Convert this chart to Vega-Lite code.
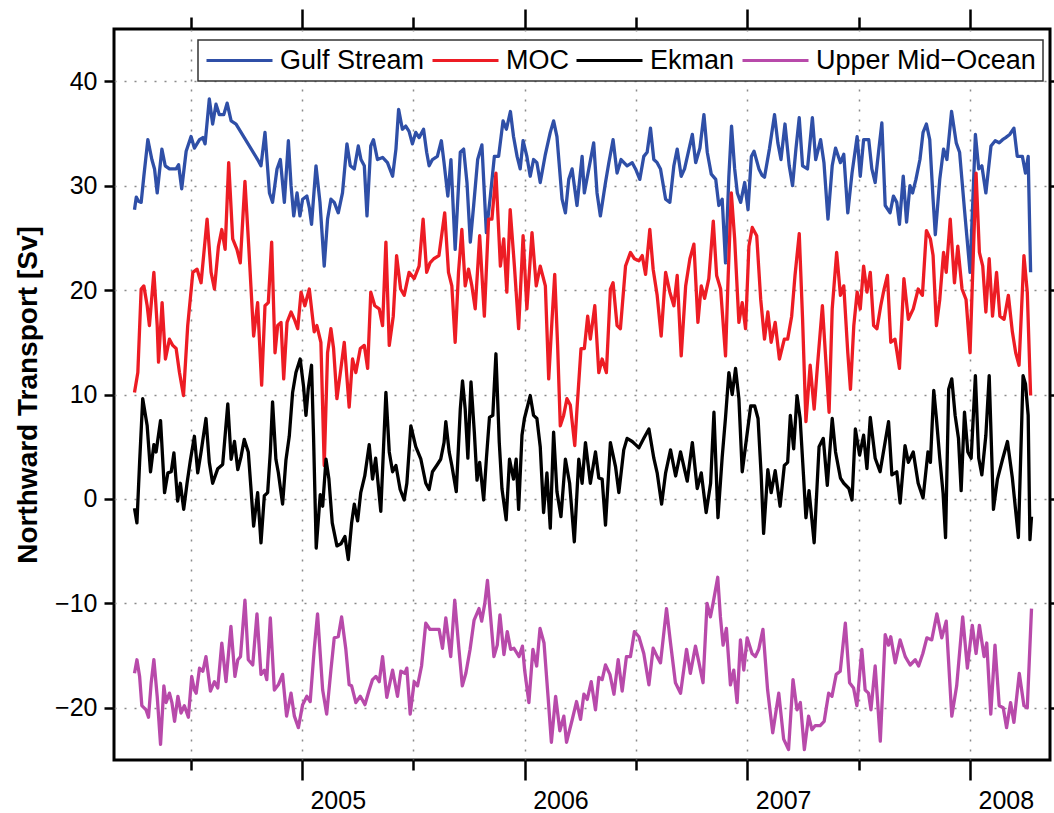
{
  "$schema": "https://vega.github.io/schema/vega-lite/v6.json",
  "width": 936,
  "height": 731,
  "autosize": {"type": "none"},
  "padding": {"left": 114, "top": 29, "right": 4, "bottom": 53},
  "background": "white",
  "config": {
    "view": {"stroke": "black", "strokeWidth": 3},
    "font": "Liberation Sans",
    "axis": {"domain": false, "tickColor": "black", "tickWidth": 2.5, "labelColor": "black", "labelFont": "Liberation Sans", "labelFontSize": 25, "gridColor": "#8a8a8a", "gridDash": [2, 8], "gridWidth": 1.5, "titleColor": "black", "titleFont": "Liberation Sans"}
  },
  "data": {"values": [
{"s":"Gulf Stream","t":2004.248,"v":27.7},{"s":"Gulf Stream","t":2004.256,"v":28.9},{"s":"Gulf Stream","t":2004.266,"v":28.5},{"s":"Gulf Stream","t":2004.278,"v":28.4},{"s":"Gulf Stream","t":2004.290,"v":30.9},{"s":"Gulf Stream","t":2004.308,"v":34.4},{"s":"Gulf Stream","t":2004.326,"v":32.5},{"s":"Gulf Stream","t":2004.338,"v":31.6},{"s":"Gulf Stream","t":2004.350,"v":29.3},{"s":"Gulf Stream","t":2004.371,"v":33.5},{"s":"Gulf Stream","t":2004.386,"v":31.9},{"s":"Gulf Stream","t":2004.405,"v":31.6},{"s":"Gulf Stream","t":2004.435,"v":31.6},{"s":"Gulf Stream","t":2004.446,"v":32.0},{"s":"Gulf Stream","t":2004.460,"v":29.7},{"s":"Gulf Stream","t":2004.480,"v":33.3},{"s":"Gulf Stream","t":2004.502,"v":34.7},{"s":"Gulf Stream","t":2004.517,"v":33.6},{"s":"Gulf Stream","t":2004.540,"v":34.4},{"s":"Gulf Stream","t":2004.555,"v":34.6},{"s":"Gulf Stream","t":2004.565,"v":34.0},{"s":"Gulf Stream","t":2004.584,"v":38.3},{"s":"Gulf Stream","t":2004.599,"v":35.9},{"s":"Gulf Stream","t":2004.614,"v":37.8},{"s":"Gulf Stream","t":2004.629,"v":36.8},{"s":"Gulf Stream","t":2004.649,"v":36.8},{"s":"Gulf Stream","t":2004.664,"v":37.9},{"s":"Gulf Stream","t":2004.682,"v":36.2},{"s":"Gulf Stream","t":2004.704,"v":35.9},{"s":"Gulf Stream","t":2004.801,"v":32.5},{"s":"Gulf Stream","t":2004.816,"v":31.9},{"s":"Gulf Stream","t":2004.834,"v":35.1},{"s":"Gulf Stream","t":2004.854,"v":29.3},{"s":"Gulf Stream","t":2004.868,"v":28.4},{"s":"Gulf Stream","t":2004.888,"v":31.6},{"s":"Gulf Stream","t":2004.903,"v":32.5},{"s":"Gulf Stream","t":2004.921,"v":28.4},{"s":"Gulf Stream","t":2004.939,"v":34.3},{"s":"Gulf Stream","t":2004.951,"v":30.0},{"s":"Gulf Stream","t":2004.963,"v":27.1},{"s":"Gulf Stream","t":2004.978,"v":29.3},{"s":"Gulf Stream","t":2004.991,"v":27.1},{"s":"Gulf Stream","t":2005.003,"v":28.7},{"s":"Gulf Stream","t":2005.022,"v":29.0},{"s":"Gulf Stream","t":2005.033,"v":27.9},{"s":"Gulf Stream","t":2005.043,"v":26.3},{"s":"Gulf Stream","t":2005.063,"v":31.9},{"s":"Gulf Stream","t":2005.081,"v":28.4},{"s":"Gulf Stream","t":2005.100,"v":22.3},{"s":"Gulf Stream","t":2005.115,"v":26.8},{"s":"Gulf Stream","t":2005.130,"v":28.7},{"s":"Gulf Stream","t":2005.145,"v":28.4},{"s":"Gulf Stream","t":2005.163,"v":27.4},{"s":"Gulf Stream","t":2005.182,"v":29.3},{"s":"Gulf Stream","t":2005.202,"v":34.0},{"s":"Gulf Stream","t":2005.217,"v":31.9},{"s":"Gulf Stream","t":2005.235,"v":31.6},{"s":"Gulf Stream","t":2005.253,"v":33.8},{"s":"Gulf Stream","t":2005.265,"v":32.5},{"s":"Gulf Stream","t":2005.280,"v":31.9},{"s":"Gulf Stream","t":2005.292,"v":27.1},{"s":"Gulf Stream","t":2005.309,"v":33.8},{"s":"Gulf Stream","t":2005.321,"v":34.4},{"s":"Gulf Stream","t":2005.339,"v":32.5},{"s":"Gulf Stream","t":2005.362,"v":32.7},{"s":"Gulf Stream","t":2005.384,"v":32.2},{"s":"Gulf Stream","t":2005.407,"v":30.9},{"s":"Gulf Stream","t":2005.422,"v":33.5},{"s":"Gulf Stream","t":2005.434,"v":37.3},{"s":"Gulf Stream","t":2005.451,"v":35.4},{"s":"Gulf Stream","t":2005.466,"v":35.7},{"s":"Gulf Stream","t":2005.481,"v":35.2},{"s":"Gulf Stream","t":2005.496,"v":34.0},{"s":"Gulf Stream","t":2005.511,"v":35.1},{"s":"Gulf Stream","t":2005.526,"v":34.6},{"s":"Gulf Stream","t":2005.546,"v":35.4},{"s":"Gulf Stream","t":2005.560,"v":33.2},{"s":"Gulf Stream","t":2005.571,"v":31.9},{"s":"Gulf Stream","t":2005.586,"v":32.5},{"s":"Gulf Stream","t":2005.608,"v":32.8},{"s":"Gulf Stream","t":2005.626,"v":34.3},{"s":"Gulf Stream","t":2005.638,"v":32.2},{"s":"Gulf Stream","t":2005.655,"v":29.0},{"s":"Gulf Stream","t":2005.669,"v":32.5},{"s":"Gulf Stream","t":2005.688,"v":23.9},{"s":"Gulf Stream","t":2005.711,"v":33.2},{"s":"Gulf Stream","t":2005.726,"v":33.5},{"s":"Gulf Stream","t":2005.741,"v":30.3},{"s":"Gulf Stream","t":2005.756,"v":24.6},{"s":"Gulf Stream","t":2005.771,"v":28.1},{"s":"Gulf Stream","t":2005.789,"v":32.5},{"s":"Gulf Stream","t":2005.808,"v":33.9},{"s":"Gulf Stream","t":2005.828,"v":25.5},{"s":"Gulf Stream","t":2005.846,"v":29.0},{"s":"Gulf Stream","t":2005.864,"v":32.8},{"s":"Gulf Stream","t":2005.883,"v":32.8},{"s":"Gulf Stream","t":2005.903,"v":36.2},{"s":"Gulf Stream","t":2005.918,"v":35.4},{"s":"Gulf Stream","t":2005.936,"v":37.1},{"s":"Gulf Stream","t":2005.950,"v":34.7},{"s":"Gulf Stream","t":2005.966,"v":32.8},{"s":"Gulf Stream","t":2005.980,"v":31.6},{"s":"Gulf Stream","t":2005.993,"v":34.3},{"s":"Gulf Stream","t":2006.010,"v":32.8},{"s":"Gulf Stream","t":2006.025,"v":30.9},{"s":"Gulf Stream","t":2006.040,"v":32.5},{"s":"Gulf Stream","t":2006.055,"v":32.2},{"s":"Gulf Stream","t":2006.070,"v":30.3},{"s":"Gulf Stream","t":2006.093,"v":33.0},{"s":"Gulf Stream","t":2006.115,"v":35.1},{"s":"Gulf Stream","t":2006.130,"v":36.2},{"s":"Gulf Stream","t":2006.145,"v":34.7},{"s":"Gulf Stream","t":2006.168,"v":28.7},{"s":"Gulf Stream","t":2006.183,"v":27.4},{"s":"Gulf Stream","t":2006.198,"v":30.6},{"s":"Gulf Stream","t":2006.213,"v":31.6},{"s":"Gulf Stream","t":2006.235,"v":28.1},{"s":"Gulf Stream","t":2006.258,"v":32.8},{"s":"Gulf Stream","t":2006.268,"v":29.3},{"s":"Gulf Stream","t":2006.288,"v":31.6},{"s":"Gulf Stream","t":2006.310,"v":34.1},{"s":"Gulf Stream","t":2006.325,"v":29.3},{"s":"Gulf Stream","t":2006.340,"v":27.1},{"s":"Gulf Stream","t":2006.363,"v":30.3},{"s":"Gulf Stream","t":2006.378,"v":32.2},{"s":"Gulf Stream","t":2006.397,"v":34.4},{"s":"Gulf Stream","t":2006.415,"v":31.2},{"s":"Gulf Stream","t":2006.433,"v":32.5},{"s":"Gulf Stream","t":2006.460,"v":31.9},{"s":"Gulf Stream","t":2006.483,"v":32.2},{"s":"Gulf Stream","t":2006.498,"v":31.6},{"s":"Gulf Stream","t":2006.517,"v":30.6},{"s":"Gulf Stream","t":2006.535,"v":32.8},{"s":"Gulf Stream","t":2006.550,"v":33.2},{"s":"Gulf Stream","t":2006.565,"v":35.5},{"s":"Gulf Stream","t":2006.580,"v":32.5},{"s":"Gulf Stream","t":2006.595,"v":32.2},{"s":"Gulf Stream","t":2006.610,"v":31.6},{"s":"Gulf Stream","t":2006.633,"v":28.7},{"s":"Gulf Stream","t":2006.652,"v":28.4},{"s":"Gulf Stream","t":2006.670,"v":31.9},{"s":"Gulf Stream","t":2006.685,"v":33.5},{"s":"Gulf Stream","t":2006.703,"v":30.9},{"s":"Gulf Stream","t":2006.718,"v":31.6},{"s":"Gulf Stream","t":2006.738,"v":33.5},{"s":"Gulf Stream","t":2006.753,"v":34.9},{"s":"Gulf Stream","t":2006.768,"v":32.2},{"s":"Gulf Stream","t":2006.787,"v":33.6},{"s":"Gulf Stream","t":2006.805,"v":36.8},{"s":"Gulf Stream","t":2006.820,"v":33.2},{"s":"Gulf Stream","t":2006.838,"v":31.1},{"s":"Gulf Stream","t":2006.858,"v":30.6},{"s":"Gulf Stream","t":2006.872,"v":28.1},{"s":"Gulf Stream","t":2006.887,"v":28.7},{"s":"Gulf Stream","t":2006.902,"v":22.6},{"s":"Gulf Stream","t":2006.917,"v":30.9},{"s":"Gulf Stream","t":2006.929,"v":35.7},{"s":"Gulf Stream","t":2006.943,"v":31.6},{"s":"Gulf Stream","t":2006.955,"v":29.3},{"s":"Gulf Stream","t":2006.970,"v":28.4},{"s":"Gulf Stream","t":2006.988,"v":30.3},{"s":"Gulf Stream","t":2007.003,"v":27.7},{"s":"Gulf Stream","t":2007.018,"v":32.8},{"s":"Gulf Stream","t":2007.030,"v":33.3},{"s":"Gulf Stream","t":2007.052,"v":31.6},{"s":"Gulf Stream","t":2007.066,"v":31.0},{"s":"Gulf Stream","t":2007.077,"v":30.8},{"s":"Gulf Stream","t":2007.099,"v":33.5},{"s":"Gulf Stream","t":2007.122,"v":36.8},{"s":"Gulf Stream","t":2007.137,"v":34.1},{"s":"Gulf Stream","t":2007.151,"v":32.5},{"s":"Gulf Stream","t":2007.169,"v":35.9},{"s":"Gulf Stream","t":2007.188,"v":31.9},{"s":"Gulf Stream","t":2007.203,"v":30.0},{"s":"Gulf Stream","t":2007.218,"v":33.5},{"s":"Gulf Stream","t":2007.233,"v":36.5},{"s":"Gulf Stream","t":2007.248,"v":31.9},{"s":"Gulf Stream","t":2007.270,"v":31.6},{"s":"Gulf Stream","t":2007.292,"v":36.5},{"s":"Gulf Stream","t":2007.307,"v":32.5},{"s":"Gulf Stream","t":2007.329,"v":34.4},{"s":"Gulf Stream","t":2007.344,"v":32.2},{"s":"Gulf Stream","t":2007.362,"v":26.8},{"s":"Gulf Stream","t":2007.381,"v":31.9},{"s":"Gulf Stream","t":2007.396,"v":33.6},{"s":"Gulf Stream","t":2007.418,"v":32.2},{"s":"Gulf Stream","t":2007.433,"v":33.0},{"s":"Gulf Stream","t":2007.451,"v":27.4},{"s":"Gulf Stream","t":2007.470,"v":31.2},{"s":"Gulf Stream","t":2007.493,"v":34.7},{"s":"Gulf Stream","t":2007.507,"v":30.9},{"s":"Gulf Stream","t":2007.522,"v":34.4},{"s":"Gulf Stream","t":2007.545,"v":34.4},{"s":"Gulf Stream","t":2007.559,"v":31.6},{"s":"Gulf Stream","t":2007.574,"v":30.3},{"s":"Gulf Stream","t":2007.589,"v":33.2},{"s":"Gulf Stream","t":2007.604,"v":36.0},{"s":"Gulf Stream","t":2007.619,"v":28.1},{"s":"Gulf Stream","t":2007.641,"v":27.4},{"s":"Gulf Stream","t":2007.656,"v":29.0},{"s":"Gulf Stream","t":2007.671,"v":28.4},{"s":"Gulf Stream","t":2007.683,"v":26.3},{"s":"Gulf Stream","t":2007.700,"v":30.9},{"s":"Gulf Stream","t":2007.715,"v":26.5},{"s":"Gulf Stream","t":2007.730,"v":30.0},{"s":"Gulf Stream","t":2007.742,"v":29.3},{"s":"Gulf Stream","t":2007.757,"v":30.6},{"s":"Gulf Stream","t":2007.775,"v":32.5},{"s":"Gulf Stream","t":2007.789,"v":35.1},{"s":"Gulf Stream","t":2007.804,"v":35.9},{"s":"Gulf Stream","t":2007.819,"v":34.4},{"s":"Gulf Stream","t":2007.834,"v":28.7},{"s":"Gulf Stream","t":2007.844,"v":25.3},{"s":"Gulf Stream","t":2007.864,"v":30.6},{"s":"Gulf Stream","t":2007.881,"v":33.5},{"s":"Gulf Stream","t":2007.896,"v":32.5},{"s":"Gulf Stream","t":2007.917,"v":37.1},{"s":"Gulf Stream","t":2007.938,"v":34.1},{"s":"Gulf Stream","t":2007.953,"v":33.2},{"s":"Gulf Stream","t":2007.975,"v":27.7},{"s":"Gulf Stream","t":2008.000,"v":21.7},{"s":"Gulf Stream","t":2008.024,"v":34.9},{"s":"Gulf Stream","t":2008.039,"v":31.6},{"s":"Gulf Stream","t":2008.053,"v":31.9},{"s":"Gulf Stream","t":2008.071,"v":29.3},{"s":"Gulf Stream","t":2008.094,"v":33.8},{"s":"Gulf Stream","t":2008.113,"v":34.3},{"s":"Gulf Stream","t":2008.131,"v":34.1},{"s":"Gulf Stream","t":2008.146,"v":34.4},{"s":"Gulf Stream","t":2008.160,"v":34.6},{"s":"Gulf Stream","t":2008.178,"v":34.9},{"s":"Gulf Stream","t":2008.197,"v":35.5},{"s":"Gulf Stream","t":2008.212,"v":32.8},{"s":"Gulf Stream","t":2008.235,"v":32.8},{"s":"Gulf Stream","t":2008.249,"v":31.2},{"s":"Gulf Stream","t":2008.261,"v":32.8},{"s":"Gulf Stream","t":2008.272,"v":21.7},
{"s":"MOC","t":2004.248,"v":10.2},{"s":"MOC","t":2004.263,"v":12.1},{"s":"MOC","t":2004.278,"v":20.1},{"s":"MOC","t":2004.290,"v":20.4},{"s":"MOC","t":2004.305,"v":18.5},{"s":"MOC","t":2004.315,"v":16.6},{"s":"MOC","t":2004.335,"v":21.7},{"s":"MOC","t":2004.350,"v":16.6},{"s":"MOC","t":2004.356,"v":13.1},{"s":"MOC","t":2004.372,"v":18.8},{"s":"MOC","t":2004.387,"v":13.4},{"s":"MOC","t":2004.405,"v":15.3},{"s":"MOC","t":2004.420,"v":14.7},{"s":"MOC","t":2004.435,"v":14.4},{"s":"MOC","t":2004.450,"v":12.1},{"s":"MOC","t":2004.468,"v":9.9},{"s":"MOC","t":2004.487,"v":16.6},{"s":"MOC","t":2004.510,"v":21.7},{"s":"MOC","t":2004.529,"v":22.0},{"s":"MOC","t":2004.547,"v":20.7},{"s":"MOC","t":2004.574,"v":26.8},{"s":"MOC","t":2004.592,"v":21.7},{"s":"MOC","t":2004.607,"v":20.1},{"s":"MOC","t":2004.625,"v":24.2},{"s":"MOC","t":2004.640,"v":25.8},{"s":"MOC","t":2004.655,"v":23.9},{"s":"MOC","t":2004.671,"v":32.2},{"s":"MOC","t":2004.689,"v":24.9},{"s":"MOC","t":2004.708,"v":23.9},{"s":"MOC","t":2004.723,"v":22.6},{"s":"MOC","t":2004.744,"v":30.4},{"s":"MOC","t":2004.761,"v":24.2},{"s":"MOC","t":2004.783,"v":15.6},{"s":"MOC","t":2004.801,"v":18.8},{"s":"MOC","t":2004.819,"v":10.9},{"s":"MOC","t":2004.834,"v":18.5},{"s":"MOC","t":2004.849,"v":18.8},{"s":"MOC","t":2004.864,"v":24.6},{"s":"MOC","t":2004.879,"v":14.0},{"s":"MOC","t":2004.891,"v":16.6},{"s":"MOC","t":2004.906,"v":16.9},{"s":"MOC","t":2004.918,"v":11.5},{"s":"MOC","t":2004.933,"v":16.9},{"s":"MOC","t":2004.951,"v":17.9},{"s":"MOC","t":2004.966,"v":17.2},{"s":"MOC","t":2004.981,"v":16.3},{"s":"MOC","t":2004.996,"v":19.8},{"s":"MOC","t":2005.013,"v":18.5},{"s":"MOC","t":2005.033,"v":20.1},{"s":"MOC","t":2005.055,"v":16.0},{"s":"MOC","t":2005.067,"v":16.6},{"s":"MOC","t":2005.085,"v":15.0},{"s":"MOC","t":2005.100,"v":3.2},{"s":"MOC","t":2005.115,"v":14.0},{"s":"MOC","t":2005.130,"v":16.3},{"s":"MOC","t":2005.142,"v":14.4},{"s":"MOC","t":2005.157,"v":9.6},{"s":"MOC","t":2005.175,"v":12.5},{"s":"MOC","t":2005.190,"v":15.0},{"s":"MOC","t":2005.212,"v":8.8},{"s":"MOC","t":2005.227,"v":13.4},{"s":"MOC","t":2005.242,"v":12.1},{"s":"MOC","t":2005.262,"v":14.4},{"s":"MOC","t":2005.280,"v":14.7},{"s":"MOC","t":2005.295,"v":12.5},{"s":"MOC","t":2005.309,"v":19.8},{"s":"MOC","t":2005.327,"v":18.5},{"s":"MOC","t":2005.347,"v":18.2},{"s":"MOC","t":2005.362,"v":16.6},{"s":"MOC","t":2005.377,"v":24.6},{"s":"MOC","t":2005.392,"v":14.7},{"s":"MOC","t":2005.410,"v":17.5},{"s":"MOC","t":2005.425,"v":23.3},{"s":"MOC","t":2005.443,"v":20.1},{"s":"MOC","t":2005.459,"v":19.5},{"s":"MOC","t":2005.481,"v":21.7},{"s":"MOC","t":2005.504,"v":21.1},{"s":"MOC","t":2005.526,"v":22.3},{"s":"MOC","t":2005.544,"v":26.8},{"s":"MOC","t":2005.560,"v":21.7},{"s":"MOC","t":2005.575,"v":22.6},{"s":"MOC","t":2005.592,"v":23.0},{"s":"MOC","t":2005.615,"v":23.3},{"s":"MOC","t":2005.641,"v":27.4},{"s":"MOC","t":2005.658,"v":21.7},{"s":"MOC","t":2005.673,"v":20.4},{"s":"MOC","t":2005.688,"v":15.0},{"s":"MOC","t":2005.703,"v":21.7},{"s":"MOC","t":2005.718,"v":25.8},{"s":"MOC","t":2005.733,"v":20.4},{"s":"MOC","t":2005.748,"v":22.0},{"s":"MOC","t":2005.763,"v":20.4},{"s":"MOC","t":2005.778,"v":18.2},{"s":"MOC","t":2005.798,"v":25.2},{"s":"MOC","t":2005.819,"v":17.5},{"s":"MOC","t":2005.838,"v":26.8},{"s":"MOC","t":2005.853,"v":26.8},{"s":"MOC","t":2005.871,"v":31.2},{"s":"MOC","t":2005.891,"v":22.3},{"s":"MOC","t":2005.906,"v":24.9},{"s":"MOC","t":2005.920,"v":19.8},{"s":"MOC","t":2005.935,"v":27.7},{"s":"MOC","t":2005.954,"v":22.3},{"s":"MOC","t":2005.973,"v":16.3},{"s":"MOC","t":2005.993,"v":25.2},{"s":"MOC","t":2006.010,"v":18.2},{"s":"MOC","t":2006.033,"v":25.5},{"s":"MOC","t":2006.052,"v":20.4},{"s":"MOC","t":2006.070,"v":22.3},{"s":"MOC","t":2006.093,"v":20.4},{"s":"MOC","t":2006.108,"v":11.5},{"s":"MOC","t":2006.123,"v":17.2},{"s":"MOC","t":2006.135,"v":21.5},{"s":"MOC","t":2006.148,"v":14.7},{"s":"MOC","t":2006.160,"v":7.0},{"s":"MOC","t":2006.175,"v":8.0},{"s":"MOC","t":2006.190,"v":9.6},{"s":"MOC","t":2006.205,"v":9.0},{"s":"MOC","t":2006.225,"v":5.1},{"s":"MOC","t":2006.235,"v":8.6},{"s":"MOC","t":2006.253,"v":14.4},{"s":"MOC","t":2006.268,"v":14.4},{"s":"MOC","t":2006.283,"v":17.5},{"s":"MOC","t":2006.295,"v":15.3},{"s":"MOC","t":2006.315,"v":18.5},{"s":"MOC","t":2006.333,"v":12.1},{"s":"MOC","t":2006.348,"v":13.4},{"s":"MOC","t":2006.367,"v":12.1},{"s":"MOC","t":2006.385,"v":20.1},{"s":"MOC","t":2006.397,"v":20.7},{"s":"MOC","t":2006.415,"v":16.6},{"s":"MOC","t":2006.430,"v":16.3},{"s":"MOC","t":2006.453,"v":22.3},{"s":"MOC","t":2006.475,"v":23.6},{"s":"MOC","t":2006.493,"v":23.0},{"s":"MOC","t":2006.513,"v":22.8},{"s":"MOC","t":2006.528,"v":23.3},{"s":"MOC","t":2006.543,"v":21.5},{"s":"MOC","t":2006.562,"v":25.8},{"s":"MOC","t":2006.577,"v":22.0},{"s":"MOC","t":2006.595,"v":19.5},{"s":"MOC","t":2006.613,"v":15.6},{"s":"MOC","t":2006.633,"v":21.7},{"s":"MOC","t":2006.652,"v":19.8},{"s":"MOC","t":2006.670,"v":18.5},{"s":"MOC","t":2006.685,"v":21.4},{"s":"MOC","t":2006.703,"v":13.7},{"s":"MOC","t":2006.723,"v":20.4},{"s":"MOC","t":2006.742,"v":23.0},{"s":"MOC","t":2006.760,"v":24.4},{"s":"MOC","t":2006.778,"v":16.9},{"s":"MOC","t":2006.793,"v":20.4},{"s":"MOC","t":2006.808,"v":19.2},{"s":"MOC","t":2006.827,"v":21.1},{"s":"MOC","t":2006.847,"v":26.6},{"s":"MOC","t":2006.862,"v":21.4},{"s":"MOC","t":2006.880,"v":20.1},{"s":"MOC","t":2006.902,"v":13.7},{"s":"MOC","t":2006.914,"v":21.4},{"s":"MOC","t":2006.928,"v":29.3},{"s":"MOC","t":2006.943,"v":24.9},{"s":"MOC","t":2006.962,"v":16.9},{"s":"MOC","t":2006.977,"v":18.8},{"s":"MOC","t":2006.992,"v":16.3},{"s":"MOC","t":2007.007,"v":24.2},{"s":"MOC","t":2007.022,"v":26.0},{"s":"MOC","t":2007.042,"v":25.2},{"s":"MOC","t":2007.060,"v":19.1},{"s":"MOC","t":2007.077,"v":15.3},{"s":"MOC","t":2007.092,"v":17.9},{"s":"MOC","t":2007.107,"v":15.0},{"s":"MOC","t":2007.125,"v":16.9},{"s":"MOC","t":2007.144,"v":13.4},{"s":"MOC","t":2007.166,"v":15.3},{"s":"MOC","t":2007.181,"v":15.3},{"s":"MOC","t":2007.199,"v":17.5},{"s":"MOC","t":2007.214,"v":21.4},{"s":"MOC","t":2007.233,"v":25.4},{"s":"MOC","t":2007.248,"v":17.2},{"s":"MOC","t":2007.263,"v":7.4},{"s":"MOC","t":2007.282,"v":12.8},{"s":"MOC","t":2007.300,"v":8.6},{"s":"MOC","t":2007.315,"v":12.8},{"s":"MOC","t":2007.337,"v":18.5},{"s":"MOC","t":2007.352,"v":13.4},{"s":"MOC","t":2007.367,"v":8.3},{"s":"MOC","t":2007.381,"v":18.2},{"s":"MOC","t":2007.401,"v":23.6},{"s":"MOC","t":2007.418,"v":19.5},{"s":"MOC","t":2007.433,"v":20.4},{"s":"MOC","t":2007.451,"v":14.0},{"s":"MOC","t":2007.463,"v":10.5},{"s":"MOC","t":2007.478,"v":16.6},{"s":"MOC","t":2007.493,"v":19.8},{"s":"MOC","t":2007.507,"v":18.2},{"s":"MOC","t":2007.522,"v":22.3},{"s":"MOC","t":2007.537,"v":19.8},{"s":"MOC","t":2007.552,"v":21.7},{"s":"MOC","t":2007.567,"v":16.6},{"s":"MOC","t":2007.582,"v":16.3},{"s":"MOC","t":2007.599,"v":18.5},{"s":"MOC","t":2007.614,"v":20.1},{"s":"MOC","t":2007.629,"v":21.4},{"s":"MOC","t":2007.644,"v":15.0},{"s":"MOC","t":2007.663,"v":15.3},{"s":"MOC","t":2007.683,"v":12.5},{"s":"MOC","t":2007.703,"v":21.1},{"s":"MOC","t":2007.723,"v":17.2},{"s":"MOC","t":2007.745,"v":18.2},{"s":"MOC","t":2007.767,"v":20.1},{"s":"MOC","t":2007.786,"v":19.5},{"s":"MOC","t":2007.804,"v":25.7},{"s":"MOC","t":2007.822,"v":24.9},{"s":"MOC","t":2007.834,"v":23.3},{"s":"MOC","t":2007.849,"v":16.6},{"s":"MOC","t":2007.864,"v":19.1},{"s":"MOC","t":2007.881,"v":23.6},{"s":"MOC","t":2007.893,"v":21.7},{"s":"MOC","t":2007.911,"v":26.8},{"s":"MOC","t":2007.930,"v":20.7},{"s":"MOC","t":2007.945,"v":24.2},{"s":"MOC","t":2007.964,"v":20.1},{"s":"MOC","t":2007.982,"v":19.1},{"s":"MOC","t":2008.000,"v":14.0},{"s":"MOC","t":2008.012,"v":21.7},{"s":"MOC","t":2008.027,"v":31.2},{"s":"MOC","t":2008.042,"v":23.6},{"s":"MOC","t":2008.057,"v":22.3},{"s":"MOC","t":2008.071,"v":17.9},{"s":"MOC","t":2008.086,"v":23.0},{"s":"MOC","t":2008.101,"v":17.5},{"s":"MOC","t":2008.119,"v":21.7},{"s":"MOC","t":2008.134,"v":17.5},{"s":"MOC","t":2008.153,"v":17.2},{"s":"MOC","t":2008.172,"v":19.5},{"s":"MOC","t":2008.190,"v":16.0},{"s":"MOC","t":2008.205,"v":14.0},{"s":"MOC","t":2008.220,"v":12.8},{"s":"MOC","t":2008.242,"v":23.3},{"s":"MOC","t":2008.257,"v":19.8},{"s":"MOC","t":2008.272,"v":9.9},
{"s":"Ekman","t":2004.248,"v":-0.9},{"s":"Ekman","t":2004.259,"v":-2.3},{"s":"Ekman","t":2004.271,"v":3.5},{"s":"Ekman","t":2004.285,"v":9.6},{"s":"Ekman","t":2004.305,"v":7.0},{"s":"Ekman","t":2004.320,"v":2.6},{"s":"Ekman","t":2004.335,"v":5.2},{"s":"Ekman","t":2004.345,"v":4.5},{"s":"Ekman","t":2004.365,"v":7.5},{"s":"Ekman","t":2004.383,"v":0.6},{"s":"Ekman","t":2004.398,"v":2.5},{"s":"Ekman","t":2004.413,"v":2.6},{"s":"Ekman","t":2004.425,"v":4.4},{"s":"Ekman","t":2004.442,"v":-0.2},{"s":"Ekman","t":2004.454,"v":1.5},{"s":"Ekman","t":2004.469,"v":-1.0},{"s":"Ekman","t":2004.484,"v":1.5},{"s":"Ekman","t":2004.499,"v":3.7},{"s":"Ekman","t":2004.517,"v":6.0},{"s":"Ekman","t":2004.532,"v":2.5},{"s":"Ekman","t":2004.547,"v":4.5},{"s":"Ekman","t":2004.569,"v":7.7},{"s":"Ekman","t":2004.584,"v":3.5},{"s":"Ekman","t":2004.599,"v":1.5},{"s":"Ekman","t":2004.622,"v":2.9},{"s":"Ekman","t":2004.644,"v":3.3},{"s":"Ekman","t":2004.667,"v":9.1},{"s":"Ekman","t":2004.682,"v":3.8},{"s":"Ekman","t":2004.697,"v":5.5},{"s":"Ekman","t":2004.712,"v":2.8},{"s":"Ekman","t":2004.726,"v":4.0},{"s":"Ekman","t":2004.741,"v":5.7},{"s":"Ekman","t":2004.759,"v":4.5},{"s":"Ekman","t":2004.771,"v":1.0},{"s":"Ekman","t":2004.783,"v":-2.6},{"s":"Ekman","t":2004.801,"v":0.6},{"s":"Ekman","t":2004.816,"v":-4.2},{"s":"Ekman","t":2004.831,"v":0.3},{"s":"Ekman","t":2004.846,"v":0.6},{"s":"Ekman","t":2004.858,"v":4.5},{"s":"Ekman","t":2004.868,"v":9.3},{"s":"Ekman","t":2004.883,"v":3.8},{"s":"Ekman","t":2004.894,"v":2.5},{"s":"Ekman","t":2004.913,"v":-0.5},{"s":"Ekman","t":2004.928,"v":3.7},{"s":"Ekman","t":2004.943,"v":6.0},{"s":"Ekman","t":2004.958,"v":10.2},{"s":"Ekman","t":2004.973,"v":12.1},{"s":"Ekman","t":2004.992,"v":13.4},{"s":"Ekman","t":2005.007,"v":10.8},{"s":"Ekman","t":2005.018,"v":8.0},{"s":"Ekman","t":2005.028,"v":10.5},{"s":"Ekman","t":2005.043,"v":12.8},{"s":"Ekman","t":2005.052,"v":6.0},{"s":"Ekman","t":2005.064,"v":-4.7},{"s":"Ekman","t":2005.082,"v":0.4},{"s":"Ekman","t":2005.093,"v":-0.7},{"s":"Ekman","t":2005.108,"v":3.8},{"s":"Ekman","t":2005.121,"v":1.9},{"s":"Ekman","t":2005.136,"v":-2.3},{"s":"Ekman","t":2005.157,"v":-4.5},{"s":"Ekman","t":2005.175,"v":-4.3},{"s":"Ekman","t":2005.193,"v":-3.6},{"s":"Ekman","t":2005.208,"v":-5.8},{"s":"Ekman","t":2005.223,"v":-2.3},{"s":"Ekman","t":2005.235,"v":-0.5},{"s":"Ekman","t":2005.250,"v":-2.1},{"s":"Ekman","t":2005.264,"v":0.6},{"s":"Ekman","t":2005.282,"v":2.2},{"s":"Ekman","t":2005.302,"v":5.2},{"s":"Ekman","t":2005.317,"v":1.9},{"s":"Ekman","t":2005.331,"v":3.9},{"s":"Ekman","t":2005.354,"v":-1.2},{"s":"Ekman","t":2005.377,"v":10.2},{"s":"Ekman","t":2005.392,"v":4.5},{"s":"Ekman","t":2005.407,"v":2.6},{"s":"Ekman","t":2005.422,"v":3.2},{"s":"Ekman","t":2005.441,"v":0.9},{"s":"Ekman","t":2005.459,"v":-0.1},{"s":"Ekman","t":2005.471,"v":1.5},{"s":"Ekman","t":2005.489,"v":7.0},{"s":"Ekman","t":2005.511,"v":5.0},{"s":"Ekman","t":2005.534,"v":3.8},{"s":"Ekman","t":2005.556,"v":1.5},{"s":"Ekman","t":2005.571,"v":0.9},{"s":"Ekman","t":2005.586,"v":2.6},{"s":"Ekman","t":2005.608,"v":3.3},{"s":"Ekman","t":2005.623,"v":3.8},{"s":"Ekman","t":2005.638,"v":5.4},{"s":"Ekman","t":2005.646,"v":7.4},{"s":"Ekman","t":2005.661,"v":4.5},{"s":"Ekman","t":2005.673,"v":3.2},{"s":"Ekman","t":2005.693,"v":0.7},{"s":"Ekman","t":2005.711,"v":8.6},{"s":"Ekman","t":2005.721,"v":11.3},{"s":"Ekman","t":2005.733,"v":8.6},{"s":"Ekman","t":2005.745,"v":3.9},{"s":"Ekman","t":2005.759,"v":11.2},{"s":"Ekman","t":2005.774,"v":6.4},{"s":"Ekman","t":2005.786,"v":1.8},{"s":"Ekman","t":2005.798,"v":3.5},{"s":"Ekman","t":2005.816,"v":-0.1},{"s":"Ekman","t":2005.828,"v":3.8},{"s":"Ekman","t":2005.842,"v":7.8},{"s":"Ekman","t":2005.857,"v":8.0},{"s":"Ekman","t":2005.871,"v":13.9},{"s":"Ekman","t":2005.886,"v":5.4},{"s":"Ekman","t":2005.898,"v":1.0},{"s":"Ekman","t":2005.917,"v":-2.0},{"s":"Ekman","t":2005.932,"v":3.8},{"s":"Ekman","t":2005.950,"v":1.9},{"s":"Ekman","t":2005.962,"v":3.8},{"s":"Ekman","t":2005.973,"v":-1.0},{"s":"Ekman","t":2005.988,"v":6.1},{"s":"Ekman","t":2005.999,"v":7.7},{"s":"Ekman","t":2006.025,"v":9.9},{"s":"Ekman","t":2006.040,"v":8.0},{"s":"Ekman","t":2006.055,"v":7.7},{"s":"Ekman","t":2006.070,"v":5.0},{"s":"Ekman","t":2006.085,"v":-1.3},{"s":"Ekman","t":2006.100,"v":2.5},{"s":"Ekman","t":2006.115,"v":-2.8},{"s":"Ekman","t":2006.130,"v":6.4},{"s":"Ekman","t":2006.145,"v":0.7},{"s":"Ekman","t":2006.163,"v":-1.7},{"s":"Ekman","t":2006.183,"v":3.8},{"s":"Ekman","t":2006.202,"v":1.5},{"s":"Ekman","t":2006.223,"v":-4.1},{"s":"Ekman","t":2006.243,"v":3.8},{"s":"Ekman","t":2006.258,"v":1.5},{"s":"Ekman","t":2006.273,"v":5.4},{"s":"Ekman","t":2006.295,"v":1.5},{"s":"Ekman","t":2006.318,"v":4.5},{"s":"Ekman","t":2006.333,"v":2.0},{"s":"Ekman","t":2006.348,"v":1.9},{"s":"Ekman","t":2006.363,"v":-2.5},{"s":"Ekman","t":2006.385,"v":5.4},{"s":"Ekman","t":2006.408,"v":3.1},{"s":"Ekman","t":2006.423,"v":0.6},{"s":"Ekman","t":2006.445,"v":4.7},{"s":"Ekman","t":2006.460,"v":5.8},{"s":"Ekman","t":2006.483,"v":5.5},{"s":"Ekman","t":2006.498,"v":5.2},{"s":"Ekman","t":2006.513,"v":4.9},{"s":"Ekman","t":2006.535,"v":5.8},{"s":"Ekman","t":2006.558,"v":6.7},{"s":"Ekman","t":2006.580,"v":3.9},{"s":"Ekman","t":2006.595,"v":2.5},{"s":"Ekman","t":2006.615,"v":-0.5},{"s":"Ekman","t":2006.633,"v":2.5},{"s":"Ekman","t":2006.655,"v":4.7},{"s":"Ekman","t":2006.678,"v":2.2},{"s":"Ekman","t":2006.700,"v":4.5},{"s":"Ekman","t":2006.730,"v":1.7},{"s":"Ekman","t":2006.753,"v":5.4},{"s":"Ekman","t":2006.775,"v":1.0},{"s":"Ekman","t":2006.793,"v":2.5},{"s":"Ekman","t":2006.815,"v":-1.3},{"s":"Ekman","t":2006.835,"v":1.5},{"s":"Ekman","t":2006.850,"v":8.3},{"s":"Ekman","t":2006.868,"v":-1.8},{"s":"Ekman","t":2006.887,"v":4.0},{"s":"Ekman","t":2006.902,"v":7.8},{"s":"Ekman","t":2006.917,"v":12.1},{"s":"Ekman","t":2006.932,"v":10.0},{"s":"Ekman","t":2006.947,"v":12.5},{"s":"Ekman","t":2006.962,"v":9.6},{"s":"Ekman","t":2006.977,"v":2.6},{"s":"Ekman","t":2006.992,"v":5.1},{"s":"Ekman","t":2007.015,"v":8.9},{"s":"Ekman","t":2007.033,"v":8.9},{"s":"Ekman","t":2007.048,"v":7.7},{"s":"Ekman","t":2007.062,"v":2.3},{"s":"Ekman","t":2007.073,"v":-3.3},{"s":"Ekman","t":2007.092,"v":2.8},{"s":"Ekman","t":2007.107,"v":0.6},{"s":"Ekman","t":2007.125,"v":2.7},{"s":"Ekman","t":2007.147,"v":-0.7},{"s":"Ekman","t":2007.166,"v":3.2},{"s":"Ekman","t":2007.181,"v":3.5},{"s":"Ekman","t":2007.193,"v":8.0},{"s":"Ekman","t":2007.208,"v":4.8},{"s":"Ekman","t":2007.223,"v":9.9},{"s":"Ekman","t":2007.237,"v":7.7},{"s":"Ekman","t":2007.252,"v":2.3},{"s":"Ekman","t":2007.263,"v":-1.8},{"s":"Ekman","t":2007.277,"v":0.8},{"s":"Ekman","t":2007.300,"v":-4.2},{"s":"Ekman","t":2007.322,"v":5.0},{"s":"Ekman","t":2007.341,"v":5.8},{"s":"Ekman","t":2007.359,"v":1.3},{"s":"Ekman","t":2007.381,"v":7.7},{"s":"Ekman","t":2007.396,"v":4.5},{"s":"Ekman","t":2007.418,"v":2.0},{"s":"Ekman","t":2007.433,"v":1.5},{"s":"Ekman","t":2007.456,"v":1.0},{"s":"Ekman","t":2007.470,"v":-0.1},{"s":"Ekman","t":2007.485,"v":6.7},{"s":"Ekman","t":2007.504,"v":4.2},{"s":"Ekman","t":2007.522,"v":6.1},{"s":"Ekman","t":2007.537,"v":2.9},{"s":"Ekman","t":2007.552,"v":7.8},{"s":"Ekman","t":2007.574,"v":3.9},{"s":"Ekman","t":2007.596,"v":2.6},{"s":"Ekman","t":2007.619,"v":5.5},{"s":"Ekman","t":2007.634,"v":7.4},{"s":"Ekman","t":2007.649,"v":2.3},{"s":"Ekman","t":2007.671,"v":2.6},{"s":"Ekman","t":2007.686,"v":-0.4},{"s":"Ekman","t":2007.708,"v":5.1},{"s":"Ekman","t":2007.723,"v":3.5},{"s":"Ekman","t":2007.745,"v":4.5},{"s":"Ekman","t":2007.767,"v":1.5},{"s":"Ekman","t":2007.789,"v":0.1},{"s":"Ekman","t":2007.811,"v":4.5},{"s":"Ekman","t":2007.822,"v":3.5},{"s":"Ekman","t":2007.837,"v":10.4},{"s":"Ekman","t":2007.849,"v":7.7},{"s":"Ekman","t":2007.864,"v":3.9},{"s":"Ekman","t":2007.879,"v":0.5},{"s":"Ekman","t":2007.890,"v":-3.7},{"s":"Ekman","t":2007.904,"v":10.5},{"s":"Ekman","t":2007.918,"v":11.5},{"s":"Ekman","t":2007.933,"v":8.0},{"s":"Ekman","t":2007.948,"v":5.8},{"s":"Ekman","t":2007.960,"v":0.8},{"s":"Ekman","t":2007.975,"v":8.3},{"s":"Ekman","t":2007.990,"v":4.5},{"s":"Ekman","t":2008.005,"v":3.9},{"s":"Ekman","t":2008.024,"v":11.8},{"s":"Ekman","t":2008.039,"v":3.9},{"s":"Ekman","t":2008.053,"v":2.3},{"s":"Ekman","t":2008.071,"v":6.1},{"s":"Ekman","t":2008.086,"v":11.8},{"s":"Ekman","t":2008.105,"v":-1.0},{"s":"Ekman","t":2008.123,"v":1.9},{"s":"Ekman","t":2008.146,"v":3.8},{"s":"Ekman","t":2008.168,"v":5.5},{"s":"Ekman","t":2008.190,"v":2.0},{"s":"Ekman","t":2008.217,"v":-3.7},{"s":"Ekman","t":2008.238,"v":11.8},{"s":"Ekman","t":2008.249,"v":11.0},{"s":"Ekman","t":2008.261,"v":8.0},{"s":"Ekman","t":2008.269,"v":-3.9},{"s":"Ekman","t":2008.276,"v":-1.7},
{"s":"Upper Mid−Ocean","t":2004.248,"v":-16.7},{"s":"Upper Mid−Ocean","t":2004.259,"v":-15.4},{"s":"Upper Mid−Ocean","t":2004.271,"v":-17.0},{"s":"Upper Mid−Ocean","t":2004.281,"v":-19.8},{"s":"Upper Mid−Ocean","t":2004.300,"v":-20.2},{"s":"Upper Mid−Ocean","t":2004.311,"v":-20.9},{"s":"Upper Mid−Ocean","t":2004.323,"v":-17.6},{"s":"Upper Mid−Ocean","t":2004.335,"v":-15.4},{"s":"Upper Mid−Ocean","t":2004.350,"v":-18.9},{"s":"Upper Mid−Ocean","t":2004.365,"v":-23.5},{"s":"Upper Mid−Ocean","t":2004.380,"v":-17.9},{"s":"Upper Mid−Ocean","t":2004.390,"v":-19.5},{"s":"Upper Mid−Ocean","t":2004.405,"v":-18.6},{"s":"Upper Mid−Ocean","t":2004.416,"v":-19.5},{"s":"Upper Mid−Ocean","t":2004.428,"v":-21.3},{"s":"Upper Mid−Ocean","t":2004.443,"v":-18.9},{"s":"Upper Mid−Ocean","t":2004.457,"v":-20.5},{"s":"Upper Mid−Ocean","t":2004.472,"v":-19.8},{"s":"Upper Mid−Ocean","t":2004.490,"v":-20.9},{"s":"Upper Mid−Ocean","t":2004.505,"v":-17.0},{"s":"Upper Mid−Ocean","t":2004.517,"v":-18.3},{"s":"Upper Mid−Ocean","t":2004.525,"v":-18.6},{"s":"Upper Mid−Ocean","t":2004.540,"v":-16.2},{"s":"Upper Mid−Ocean","t":2004.555,"v":-16.5},{"s":"Upper Mid−Ocean","t":2004.569,"v":-15.1},{"s":"Upper Mid−Ocean","t":2004.589,"v":-18.4},{"s":"Upper Mid−Ocean","t":2004.607,"v":-17.5},{"s":"Upper Mid−Ocean","t":2004.622,"v":-18.1},{"s":"Upper Mid−Ocean","t":2004.640,"v":-13.8},{"s":"Upper Mid−Ocean","t":2004.659,"v":-17.5},{"s":"Upper Mid−Ocean","t":2004.681,"v":-12.2},{"s":"Upper Mid−Ocean","t":2004.699,"v":-17.0},{"s":"Upper Mid−Ocean","t":2004.712,"v":-15.4},{"s":"Upper Mid−Ocean","t":2004.724,"v":-15.1},{"s":"Upper Mid−Ocean","t":2004.744,"v":-9.7},{"s":"Upper Mid−Ocean","t":2004.759,"v":-15.4},{"s":"Upper Mid−Ocean","t":2004.779,"v":-15.9},{"s":"Upper Mid−Ocean","t":2004.798,"v":-11.0},{"s":"Upper Mid−Ocean","t":2004.816,"v":-16.8},{"s":"Upper Mid−Ocean","t":2004.831,"v":-16.4},{"s":"Upper Mid−Ocean","t":2004.842,"v":-17.3},{"s":"Upper Mid−Ocean","t":2004.858,"v":-11.4},{"s":"Upper Mid−Ocean","t":2004.876,"v":-18.3},{"s":"Upper Mid−Ocean","t":2004.894,"v":-17.8},{"s":"Upper Mid−Ocean","t":2004.913,"v":-16.8},{"s":"Upper Mid−Ocean","t":2004.931,"v":-20.8},{"s":"Upper Mid−Ocean","t":2004.951,"v":-18.6},{"s":"Upper Mid−Ocean","t":2004.966,"v":-20.8},{"s":"Upper Mid−Ocean","t":2004.984,"v":-21.9},{"s":"Upper Mid−Ocean","t":2005.003,"v":-19.7},{"s":"Upper Mid−Ocean","t":2005.022,"v":-18.9},{"s":"Upper Mid−Ocean","t":2005.037,"v":-19.4},{"s":"Upper Mid−Ocean","t":2005.055,"v":-14.4},{"s":"Upper Mid−Ocean","t":2005.070,"v":-11.0},{"s":"Upper Mid−Ocean","t":2005.093,"v":-18.3},{"s":"Upper Mid−Ocean","t":2005.111,"v":-20.6},{"s":"Upper Mid−Ocean","t":2005.130,"v":-16.4},{"s":"Upper Mid−Ocean","t":2005.145,"v":-13.3},{"s":"Upper Mid−Ocean","t":2005.163,"v":-13.2},{"s":"Upper Mid−Ocean","t":2005.178,"v":-11.3},{"s":"Upper Mid−Ocean","t":2005.197,"v":-14.4},{"s":"Upper Mid−Ocean","t":2005.212,"v":-17.8},{"s":"Upper Mid−Ocean","t":2005.223,"v":-17.9},{"s":"Upper Mid−Ocean","t":2005.242,"v":-19.5},{"s":"Upper Mid−Ocean","t":2005.262,"v":-18.9},{"s":"Upper Mid−Ocean","t":2005.283,"v":-19.7},{"s":"Upper Mid−Ocean","t":2005.302,"v":-18.3},{"s":"Upper Mid−Ocean","t":2005.317,"v":-17.3},{"s":"Upper Mid−Ocean","t":2005.332,"v":-17.0},{"s":"Upper Mid−Ocean","t":2005.347,"v":-17.5},{"s":"Upper Mid−Ocean","t":2005.362,"v":-15.1},{"s":"Upper Mid−Ocean","t":2005.381,"v":-19.0},{"s":"Upper Mid−Ocean","t":2005.407,"v":-16.4},{"s":"Upper Mid−Ocean","t":2005.429,"v":-18.9},{"s":"Upper Mid−Ocean","t":2005.444,"v":-16.5},{"s":"Upper Mid−Ocean","t":2005.462,"v":-16.7},{"s":"Upper Mid−Ocean","t":2005.471,"v":-16.2},{"s":"Upper Mid−Ocean","t":2005.486,"v":-20.6},{"s":"Upper Mid−Ocean","t":2005.504,"v":-17.5},{"s":"Upper Mid−Ocean","t":2005.519,"v":-17.9},{"s":"Upper Mid−Ocean","t":2005.537,"v":-16.0},{"s":"Upper Mid−Ocean","t":2005.556,"v":-11.9},{"s":"Upper Mid−Ocean","t":2005.575,"v":-12.5},{"s":"Upper Mid−Ocean","t":2005.593,"v":-12.5},{"s":"Upper Mid−Ocean","t":2005.616,"v":-12.5},{"s":"Upper Mid−Ocean","t":2005.631,"v":-14.3},{"s":"Upper Mid−Ocean","t":2005.646,"v":-11.4},{"s":"Upper Mid−Ocean","t":2005.668,"v":-15.1},{"s":"Upper Mid−Ocean","t":2005.686,"v":-9.7},{"s":"Upper Mid−Ocean","t":2005.705,"v":-14.4},{"s":"Upper Mid−Ocean","t":2005.720,"v":-17.9},{"s":"Upper Mid−Ocean","t":2005.736,"v":-16.7},{"s":"Upper Mid−Ocean","t":2005.755,"v":-14.4},{"s":"Upper Mid−Ocean","t":2005.773,"v":-11.6},{"s":"Upper Mid−Ocean","t":2005.795,"v":-10.5},{"s":"Upper Mid−Ocean","t":2005.807,"v":-11.7},{"s":"Upper Mid−Ocean","t":2005.821,"v":-10.0},{"s":"Upper Mid−Ocean","t":2005.833,"v":-7.8},{"s":"Upper Mid−Ocean","t":2005.847,"v":-11.3},{"s":"Upper Mid−Ocean","t":2005.862,"v":-15.1},{"s":"Upper Mid−Ocean","t":2005.877,"v":-14.0},{"s":"Upper Mid−Ocean","t":2005.889,"v":-11.1},{"s":"Upper Mid−Ocean","t":2005.907,"v":-14.9},{"s":"Upper Mid−Ocean","t":2005.922,"v":-12.7},{"s":"Upper Mid−Ocean","t":2005.937,"v":-14.4},{"s":"Upper Mid−Ocean","t":2005.952,"v":-14.3},{"s":"Upper Mid−Ocean","t":2005.975,"v":-15.1},{"s":"Upper Mid−Ocean","t":2005.990,"v":-14.1},{"s":"Upper Mid−Ocean","t":2006.000,"v":-16.4},{"s":"Upper Mid−Ocean","t":2006.019,"v":-19.5},{"s":"Upper Mid−Ocean","t":2006.037,"v":-14.4},{"s":"Upper Mid−Ocean","t":2006.054,"v":-16.0},{"s":"Upper Mid−Ocean","t":2006.069,"v":-12.4},{"s":"Upper Mid−Ocean","t":2006.087,"v":-13.8},{"s":"Upper Mid−Ocean","t":2006.105,"v":-18.9},{"s":"Upper Mid−Ocean","t":2006.120,"v":-23.3},{"s":"Upper Mid−Ocean","t":2006.139,"v":-18.9},{"s":"Upper Mid−Ocean","t":2006.158,"v":-22.2},{"s":"Upper Mid−Ocean","t":2006.176,"v":-20.8},{"s":"Upper Mid−Ocean","t":2006.188,"v":-23.3},{"s":"Upper Mid−Ocean","t":2006.214,"v":-21.1},{"s":"Upper Mid−Ocean","t":2006.233,"v":-19.4},{"s":"Upper Mid−Ocean","t":2006.251,"v":-21.1},{"s":"Upper Mid−Ocean","t":2006.266,"v":-18.7},{"s":"Upper Mid−Ocean","t":2006.281,"v":-19.2},{"s":"Upper Mid−Ocean","t":2006.299,"v":-17.5},{"s":"Upper Mid−Ocean","t":2006.318,"v":-20.2},{"s":"Upper Mid−Ocean","t":2006.333,"v":-17.1},{"s":"Upper Mid−Ocean","t":2006.348,"v":-17.3},{"s":"Upper Mid−Ocean","t":2006.363,"v":-15.9},{"s":"Upper Mid−Ocean","t":2006.383,"v":-16.8},{"s":"Upper Mid−Ocean","t":2006.401,"v":-18.7},{"s":"Upper Mid−Ocean","t":2006.420,"v":-15.4},{"s":"Upper Mid−Ocean","t":2006.438,"v":-18.4},{"s":"Upper Mid−Ocean","t":2006.457,"v":-15.1},{"s":"Upper Mid−Ocean","t":2006.475,"v":-15.1},{"s":"Upper Mid−Ocean","t":2006.493,"v":-12.7},{"s":"Upper Mid−Ocean","t":2006.513,"v":-13.2},{"s":"Upper Mid−Ocean","t":2006.535,"v":-14.8},{"s":"Upper Mid−Ocean","t":2006.558,"v":-17.8},{"s":"Upper Mid−Ocean","t":2006.577,"v":-14.3},{"s":"Upper Mid−Ocean","t":2006.595,"v":-15.1},{"s":"Upper Mid−Ocean","t":2006.610,"v":-15.7},{"s":"Upper Mid−Ocean","t":2006.637,"v":-10.5},{"s":"Upper Mid−Ocean","t":2006.655,"v":-13.8},{"s":"Upper Mid−Ocean","t":2006.677,"v":-17.6},{"s":"Upper Mid−Ocean","t":2006.700,"v":-18.6},{"s":"Upper Mid−Ocean","t":2006.727,"v":-14.4},{"s":"Upper Mid−Ocean","t":2006.744,"v":-16.7},{"s":"Upper Mid−Ocean","t":2006.767,"v":-14.1},{"s":"Upper Mid−Ocean","t":2006.782,"v":-15.6},{"s":"Upper Mid−Ocean","t":2006.801,"v":-17.6},{"s":"Upper Mid−Ocean","t":2006.819,"v":-10.0},{"s":"Upper Mid−Ocean","t":2006.834,"v":-11.3},{"s":"Upper Mid−Ocean","t":2006.846,"v":-10.0},{"s":"Upper Mid−Ocean","t":2006.867,"v":-7.5},{"s":"Upper Mid−Ocean","t":2006.879,"v":-11.3},{"s":"Upper Mid−Ocean","t":2006.891,"v":-14.0},{"s":"Upper Mid−Ocean","t":2006.906,"v":-12.4},{"s":"Upper Mid−Ocean","t":2006.924,"v":-17.8},{"s":"Upper Mid−Ocean","t":2006.939,"v":-16.4},{"s":"Upper Mid−Ocean","t":2006.954,"v":-19.5},{"s":"Upper Mid−Ocean","t":2006.969,"v":-13.5},{"s":"Upper Mid−Ocean","t":2006.984,"v":-16.4},{"s":"Upper Mid−Ocean","t":2006.999,"v":-13.3},{"s":"Upper Mid−Ocean","t":2007.021,"v":-14.8},{"s":"Upper Mid−Ocean","t":2007.036,"v":-15.1},{"s":"Upper Mid−Ocean","t":2007.051,"v":-14.4},{"s":"Upper Mid−Ocean","t":2007.070,"v":-12.5},{"s":"Upper Mid−Ocean","t":2007.091,"v":-18.3},{"s":"Upper Mid−Ocean","t":2007.114,"v":-22.4},{"s":"Upper Mid−Ocean","t":2007.141,"v":-18.6},{"s":"Upper Mid−Ocean","t":2007.163,"v":-23.0},{"s":"Upper Mid−Ocean","t":2007.185,"v":-24.0},{"s":"Upper Mid−Ocean","t":2007.205,"v":-17.3},{"s":"Upper Mid−Ocean","t":2007.223,"v":-20.2},{"s":"Upper Mid−Ocean","t":2007.238,"v":-19.5},{"s":"Upper Mid−Ocean","t":2007.256,"v":-24.0},{"s":"Upper Mid−Ocean","t":2007.275,"v":-20.8},{"s":"Upper Mid−Ocean","t":2007.290,"v":-22.1},{"s":"Upper Mid−Ocean","t":2007.305,"v":-21.7},{"s":"Upper Mid−Ocean","t":2007.327,"v":-21.7},{"s":"Upper Mid−Ocean","t":2007.345,"v":-21.3},{"s":"Upper Mid−Ocean","t":2007.365,"v":-18.6},{"s":"Upper Mid−Ocean","t":2007.380,"v":-18.9},{"s":"Upper Mid−Ocean","t":2007.399,"v":-16.8},{"s":"Upper Mid−Ocean","t":2007.417,"v":-16.5},{"s":"Upper Mid−Ocean","t":2007.440,"v":-11.9},{"s":"Upper Mid−Ocean","t":2007.459,"v":-17.6},{"s":"Upper Mid−Ocean","t":2007.477,"v":-18.1},{"s":"Upper Mid−Ocean","t":2007.492,"v":-19.8},{"s":"Upper Mid−Ocean","t":2007.514,"v":-14.4},{"s":"Upper Mid−Ocean","t":2007.529,"v":-18.3},{"s":"Upper Mid−Ocean","t":2007.544,"v":-18.6},{"s":"Upper Mid−Ocean","t":2007.555,"v":-20.2},{"s":"Upper Mid−Ocean","t":2007.574,"v":-16.0},{"s":"Upper Mid−Ocean","t":2007.597,"v":-23.2},{"s":"Upper Mid−Ocean","t":2007.619,"v":-13.0},{"s":"Upper Mid−Ocean","t":2007.634,"v":-14.0},{"s":"Upper Mid−Ocean","t":2007.644,"v":-13.2},{"s":"Upper Mid−Ocean","t":2007.664,"v":-15.7},{"s":"Upper Mid−Ocean","t":2007.686,"v":-13.5},{"s":"Upper Mid−Ocean","t":2007.709,"v":-15.1},{"s":"Upper Mid−Ocean","t":2007.731,"v":-15.9},{"s":"Upper Mid−Ocean","t":2007.754,"v":-15.4},{"s":"Upper Mid−Ocean","t":2007.769,"v":-16.0},{"s":"Upper Mid−Ocean","t":2007.788,"v":-14.8},{"s":"Upper Mid−Ocean","t":2007.806,"v":-13.3},{"s":"Upper Mid−Ocean","t":2007.828,"v":-13.5},{"s":"Upper Mid−Ocean","t":2007.851,"v":-11.0},{"s":"Upper Mid−Ocean","t":2007.873,"v":-13.3},{"s":"Upper Mid−Ocean","t":2007.893,"v":-11.7},{"s":"Upper Mid−Ocean","t":2007.918,"v":-20.8},{"s":"Upper Mid−Ocean","t":2007.940,"v":-17.9},{"s":"Upper Mid−Ocean","t":2007.967,"v":-11.3},{"s":"Upper Mid−Ocean","t":2007.988,"v":-16.2},{"s":"Upper Mid−Ocean","t":2008.010,"v":-12.1},{"s":"Upper Mid−Ocean","t":2008.027,"v":-14.8},{"s":"Upper Mid−Ocean","t":2008.042,"v":-12.1},{"s":"Upper Mid−Ocean","t":2008.063,"v":-15.1},{"s":"Upper Mid−Ocean","t":2008.075,"v":-13.8},{"s":"Upper Mid−Ocean","t":2008.093,"v":-20.6},{"s":"Upper Mid−Ocean","t":2008.112,"v":-14.0},{"s":"Upper Mid−Ocean","t":2008.131,"v":-19.8},{"s":"Upper Mid−Ocean","t":2008.149,"v":-20.0},{"s":"Upper Mid−Ocean","t":2008.164,"v":-21.9},{"s":"Upper Mid−Ocean","t":2008.182,"v":-19.5},{"s":"Upper Mid−Ocean","t":2008.197,"v":-21.4},{"s":"Upper Mid−Ocean","t":2008.221,"v":-16.7},{"s":"Upper Mid−Ocean","t":2008.242,"v":-19.8},{"s":"Upper Mid−Ocean","t":2008.257,"v":-20.0},{"s":"Upper Mid−Ocean","t":2008.276,"v":-10.5}
  ]},
  "layer": [
    {
      "mark": {"type": "line", "strokeWidth": 3.3, "strokeJoin": "round", "clip": true},
      "encoding": {
        "x": {"field": "t", "type": "quantitative",
              "scale": {"domain": [2004.156, 2008.359], "nice": false, "zero": false},
              "axis": {"orient": "bottom", "title": null, "values": [2004.5, 2005, 2005.5, 2006, 2006.5, 2007, 2007.5, 2008],
                       "tickSize": {"condition": {"test": "datum.value % 1 === 0", "value": 20}, "value": 10},
                       "labelExpr": "datum.value % 1 === 0 ? format(datum.value, 'd') : ''",
                       "labelAlign": "left", "labelOffset": 8, "labelPadding": 8, "labelBaseline": "top",
                       "labelFlush": false, "labelOverlap": false, "grid": true}},
        "y": {"field": "v", "type": "quantitative",
              "scale": {"domain": [-25, 45], "nice": false, "zero": false},
              "axis": {"orient": "left", "values": [-20, -10, 0, 10, 20, 30, 40], "format": "d", "tickSize": 10, "labelPadding": 7,
                       "grid": true, "title": "Northward Transport [Sv]", "titleFontSize": 28, "titleFontWeight": "bold", "titlePadding": 12}},
        "color": {"field": "s", "type": "nominal",
                  "scale": {"domain": ["Gulf Stream", "MOC", "Ekman", "Upper Mid−Ocean"], "range": ["#2f4fa7", "#ed1c24", "#000000", "#b84aaa"]},
                  "legend": {"orient": "none", "legendX": 84, "legendY": 11, "direction": "horizontal", "columns": 4, "title": null,
                             "symbolType": "stroke", "symbolSize": 4356, "symbolStrokeWidth": 3, "clipHeight": 27,
                             "labelFontSize": 27, "labelFont": "Liberation Sans", "labelColor": "black", "labelLimit": 400,
                             "labelOffset": 6, "columnPadding": 6, "padding": 7,
                             "fillColor": "white", "strokeColor": "#333333",
                             "encode": {"legend": {"update": {"strokeWidth": {"value": 1.5}}}}}}
      }
    },
    {
      "data": {"values": [{"t": 2005, "v": 0}]},
      "mark": {"type": "point", "opacity": 0},
      "encoding": {
        "x": {"field": "t", "type": "quantitative",
              "scale": {"domain": [2004.156, 2008.359], "nice": false, "zero": false},
              "axis": {"orient": "top", "title": null, "values": [2004.5, 2005, 2005.5, 2006, 2006.5, 2007, 2007.5, 2008],
                       "tickSize": {"condition": {"test": "datum.value % 1 === 0", "value": 20}, "value": 12},
                       "labels": false, "grid": false}},
        "y": {"field": "v", "type": "quantitative",
              "scale": {"domain": [-25, 45], "nice": false, "zero": false},
              "axis": {"orient": "right", "title": null, "values": [-20, -10, 0, 10, 20, 30, 40], "tickSize": 4, "labels": false, "grid": false}}
      }
    }
  ],
  "resolve": {"axis": {"x": "independent", "y": "independent"}}
}
